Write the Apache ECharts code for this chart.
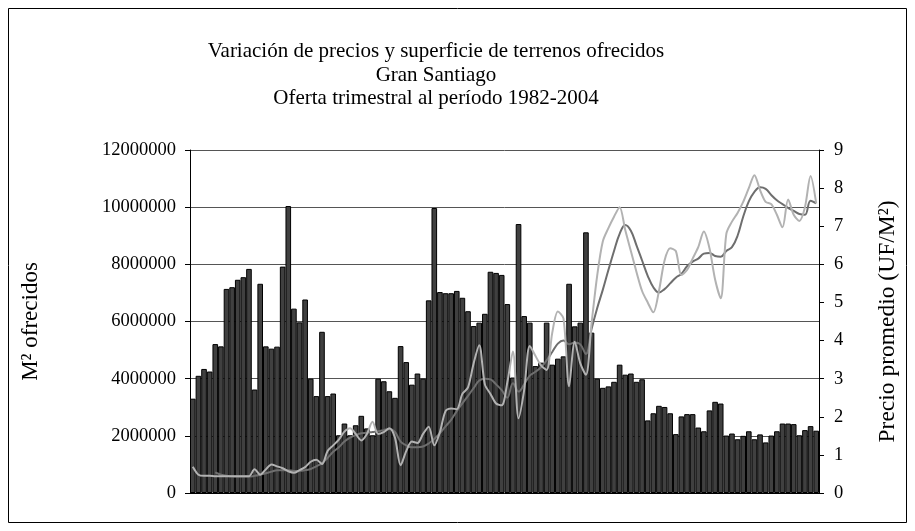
<!DOCTYPE html>
<html>
<head>
<meta charset="utf-8">
<script src="https://cdn.jsdelivr.net/npm/echarts@6/dist/echarts.min.js"></script>
<style>
html,body{margin:0;padding:0;background:#fff;}
#chart{width:915px;height:531px;}
</style>
</head>
<body>
<div id="chart"></div>
<script>
// Superficie ofrecida (M²) por período
const superficie = [
  3300000, 4100000, 4340000, 4250000, 5210000, 5130000, 7140000, 7200000, 7460000, 7550000,
  7840000, 3620000, 7320000, 5130000, 5050000, 5120000, 7920000, 10040000, 6450000, 5970000,
  6770000, 4000000, 3390000, 5640000, 3390000, 3480000, 2020000, 2430000, 2020000, 2370000,
  2700000, 2260000, 2020000, 4000000, 3910000, 3560000, 3330000, 5140000, 4580000, 3790000,
  4180000, 4000000, 6740000, 9970000, 7030000, 6990000, 6990000, 7070000, 6830000, 6360000,
  5840000, 5960000, 6270000, 7740000, 7700000, 7630000, 6610000, 4040000, 9410000, 6190000,
  5960000, 4440000, 4560000, 5960000, 4490000, 4700000, 4780000, 7320000, 5830000, 5960000,
  9120000, 5610000, 4000000, 3680000, 3730000, 3890000, 4490000, 4140000, 4180000, 3890000,
  3980000, 2540000, 2790000, 3050000, 3010000, 2790000, 2060000, 2680000, 2760000, 2760000,
  2290000, 2160000, 2890000, 3190000, 3130000, 2010000, 2080000, 1880000, 2000000, 2160000,
  1880000, 2050000, 1770000, 2010000, 2160000, 2430000, 2430000, 2410000, 2020000, 2200000,
  2340000, 2180000
];
// Precio promedio (UF/M²) - serie trimestral
const precio = [
  0.69, 0.48, 0.45, 0.45, 0.44, 0.44, 0.44, 0.44, 0.44, 0.44,
  0.44, 0.62, 0.48, 0.62, 0.75, 0.70, 0.65, 0.57, 0.53, 0.60,
  0.68, 0.82, 0.87, 0.76, 1.10, 1.25, 1.40, 1.61, 1.70, 1.55,
  1.38, 1.55, 1.87, 1.55, 1.60, 1.70, 1.45, 0.73, 1.10, 1.35,
  1.31, 1.55, 1.74, 1.25, 1.60, 2.15, 2.22, 2.20, 2.60, 2.77,
  3.40, 3.88, 2.85, 2.60, 2.35, 2.30, 2.90, 3.71, 1.96, 2.70,
  3.86, 3.60, 3.35, 3.23, 4.20, 4.76, 4.58, 2.80, 3.97, 3.40,
  3.10, 4.45, 5.70, 6.60, 6.95, 7.25, 7.50, 6.90, 6.35, 5.80,
  5.30, 5.00, 4.74, 5.30, 6.10, 6.42, 6.35, 5.72, 5.85, 6.15,
  6.45, 6.86, 6.42, 5.60, 5.11, 6.80, 7.12, 7.35, 7.64, 8.00,
  8.34, 7.95, 7.64, 7.58, 7.30, 6.97, 7.70, 7.30, 7.14, 7.50,
  8.32, 7.60
];
// Precio promedio suavizado (media móvil)
const precioSuav = [
  null, null, null, null, 0.54, 0.48, 0.45, 0.44, 0.43, 0.43,
  0.43, 0.45, 0.48, 0.52, 0.56, 0.60, 0.60, 0.60, 0.58, 0.58,
  0.60, 0.63, 0.70, 0.78, 0.92, 1.08, 1.20, 1.35, 1.45, 1.52,
  1.57, 1.58, 1.60, 1.62, 1.65, 1.68, 1.60, 1.35, 1.25, 1.20,
  1.20, 1.22, 1.30, 1.42, 1.57, 1.75, 1.92, 2.15, 2.35, 2.55,
  2.75, 2.95, 3.00, 2.98, 2.85, 2.70, 2.50, 2.88, 2.66, 2.85,
  3.08, 3.18, 3.30, 3.48, 3.70, 3.92, 4.00, 3.90, 3.95, 3.90,
  3.65, 4.30, 4.85, 5.33, 5.85, 6.35, 6.80, 7.03, 6.88, 6.50,
  6.10, 5.70, 5.40, 5.26, 5.35, 5.50, 5.65, 5.75, 5.95, 6.07,
  6.15, 6.28, 6.30, 6.22, 6.20, 6.35, 6.45, 6.75, 7.25, 7.65,
  7.90, 8.02, 7.98, 7.82, 7.68, 7.58, 7.48, 7.40, 7.32, 7.30,
  7.67, 7.60
];
const periodos = superficie.map((_, i) => String(i + 1));
const titulo = ['Variación de precios y superficie de terrenos ofrecidos', 'Gran Santiago', 'Oferta trimestral al período 1982-2004'];
const ejeIzq = 'M² ofrecidos';
const ejeDer = 'Precio promedio (UF/M²)';

const FONT = 'Liberation Serif';
const chart = echarts.init(document.getElementById('chart'), null, {renderer: 'canvas'});
chart.setOption({
  animation: false,
  backgroundColor: '#fff',
  title: {
    text: titulo.join('\n'),
    left: 431,
    top: 35,
    textAlign: 'center',
    textStyle: {fontFamily: FONT, fontSize: 21, fontWeight: 'normal', color: '#000', lineHeight: 23.5}
  },
  graphic: [{
    type: 'rect', silent: true,
    shape: {x: 8.5, y: 8.5, width: 898, height: 514},
    style: {fill: null, stroke: '#000', lineWidth: 1}
  }],
  grid: {left: 190, right: 96, top: 150, bottom: 38, show: false},
  xAxis: {
    type: 'category', data: periodos,
    axisLine: {show: true, lineStyle: {color: '#000', width: 1}},
    axisTick: {show: false}, axisLabel: {show: false}, splitLine: {show: false}
  },
  yAxis: [{
    type: 'value', min: 0, max: 12000000, interval: 2000000, position: 'left',
    name: ejeIzq, nameLocation: 'middle', nameGap: 148, nameRotate: 90,
    nameTextStyle: {fontFamily: FONT, fontSize: 23, color: '#000'},
    axisLine: {show: true, lineStyle: {color: '#000', width: 1}},
    axisTick: {show: true, inside: false, length: 5, lineStyle: {color: '#000'}},
    axisLabel: {fontFamily: FONT, fontSize: 18.5, color: '#000', margin: 14, formatter: v => String(v)},
    splitLine: {show: true, lineStyle: {color: '#555', width: 1}}
  }, {
    type: 'value', min: 0, max: 9, interval: 1, position: 'right',
    name: ejeDer, nameLocation: 'middle', nameGap: 57, nameRotate: 90,
    nameTextStyle: {fontFamily: FONT, fontSize: 23.5, color: '#000'},
    axisLine: {show: true, lineStyle: {color: '#000', width: 1}},
    axisTick: {show: true, inside: false, length: 5, lineStyle: {color: '#000'}},
    axisLabel: {fontFamily: FONT, fontSize: 18.5, color: '#000', margin: 15},
    splitLine: {show: false}
  }],
  series: [{
    name: 'Superficie', type: 'bar', yAxisIndex: 0, data: superficie,
    barCategoryGap: '0%',
    itemStyle: {color: '#404040', borderColor: '#000', borderWidth: 1},
    z: 2
  }, {
    name: 'Precio', type: 'line', yAxisIndex: 1, data: precio,
    smooth: 0.3, symbol: 'none',
    lineStyle: {color: '#b2b2b2', width: 2}, z: 4
  }, {
    name: 'Precio suavizado', type: 'line', yAxisIndex: 1, data: precioSuav,
    smooth: 0.4, symbol: 'none', connectNulls: false,
    lineStyle: {color: '#6e6e6e', width: 2}, z: 3
  }]
});
</script>
</body>
</html>
